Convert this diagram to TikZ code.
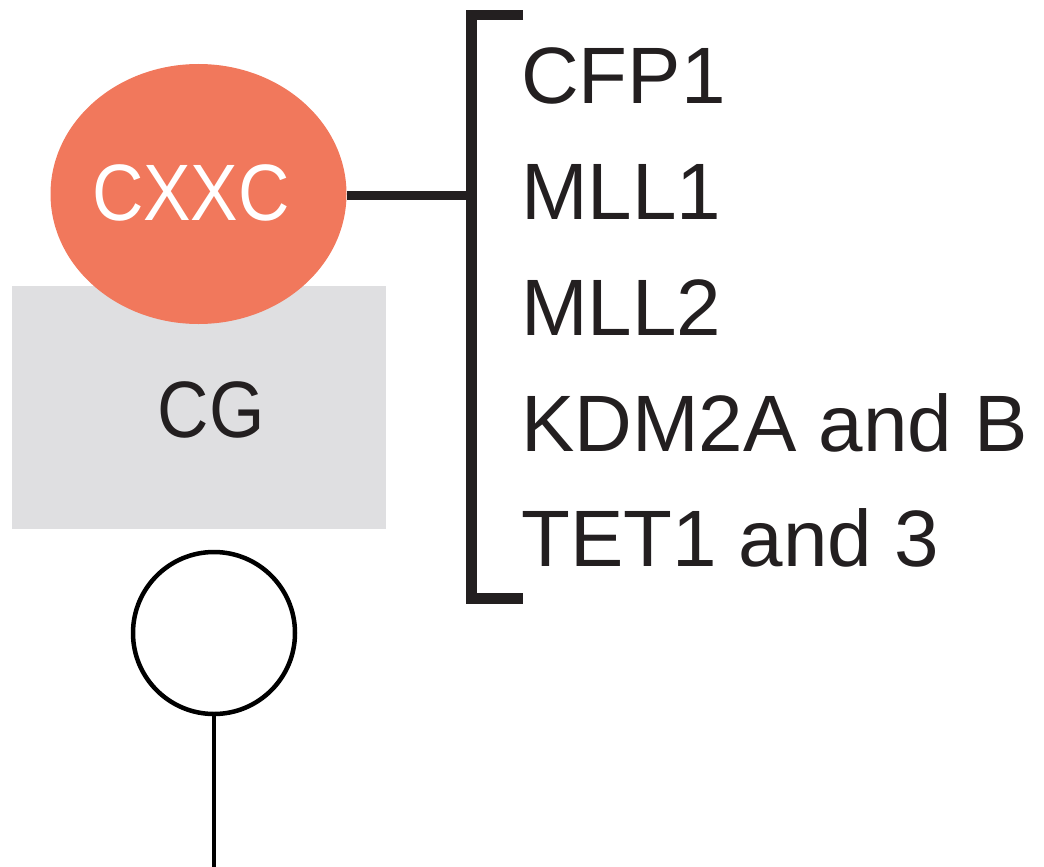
\documentclass[tikz,border=0pt]{standalone}
\usepackage{fontspec}
\setmainfont{Liberation Sans}
\newfontfamily\tagfont[FakeStretch=0.89]{Liberation Sans}
\usetikzlibrary{shapes.geometric}
\definecolor{ink}{HTML}{231F20}
\definecolor{cxxcfill}{HTML}{F1785C}
\definecolor{cgfill}{HTML}{DFDFE1}
\begin{document}
\begin{tikzpicture}[x=1pt,y=-1pt,
  item/.style={anchor=base west, inner sep=0pt, text=ink,
    font=\fontsize{80}{80}\selectfont},
  tag/.style={anchor=base, inner sep=0pt,
    font=\tagfont\fontsize{80}{80}\selectfont},
  bar/.style={draw=ink, line width=10.5pt, miter limit=10},
  link/.style={draw=ink, line width=9pt},
  stalk/.style={draw=black, line width=4.5pt}]
\useasboundingbox (0,0) rectangle (1044,867);

% DNA with the CpG site
\node[rectangle, fill=cgfill, minimum width=374pt, minimum height=243pt,
  inner sep=0pt, anchor=north west] (dna) at (12,286) {};
\node[tag, text=ink] (cg) at (211,437) {CG};

% CXXC domain sitting on the CpG
\node[ellipse, fill=cxxcfill, minimum width=296pt, minimum height=260pt,
  inner sep=0pt] (cxxc) at (198.5,194) {};
\node[tag, text=white] (cxxclabel) at (191,220) {CXXC};

% unmethylated cytosine (open lollipop)
\node[circle, stalk, minimum size=162pt, inner sep=0pt] (site) at (214,633) {};
\coordinate (stem) at (214,867);
\draw[stalk, line width=4pt] (site.south) -- (stem);

% bracket grouping the CXXC proteins
\coordinate (btopend) at (523,15);
\coordinate (btop) at (471.5,15);
\coordinate (bbot) at (471.5,598.5);
\coordinate (bbotend) at (523,598.5);
\coordinate (bmid) at (471.5,195);
\draw[bar] (btopend) -- (btop) -- (bbot) -- (bbotend);
\draw[link] (cxxc.east |- bmid) -- (bmid);

% protein list
\node[item] (p1) at (521,103) {CFP1};
\node[item] (p2) at (521,219) {MLL1};
\node[item] (p3) at (521,335) {MLL2};
\node[item] (p4) at (521,451) {KDM2A and B};
\node[item] (p5) at (521,566) {TET1 and 3};
\end{tikzpicture}
\end{document}
